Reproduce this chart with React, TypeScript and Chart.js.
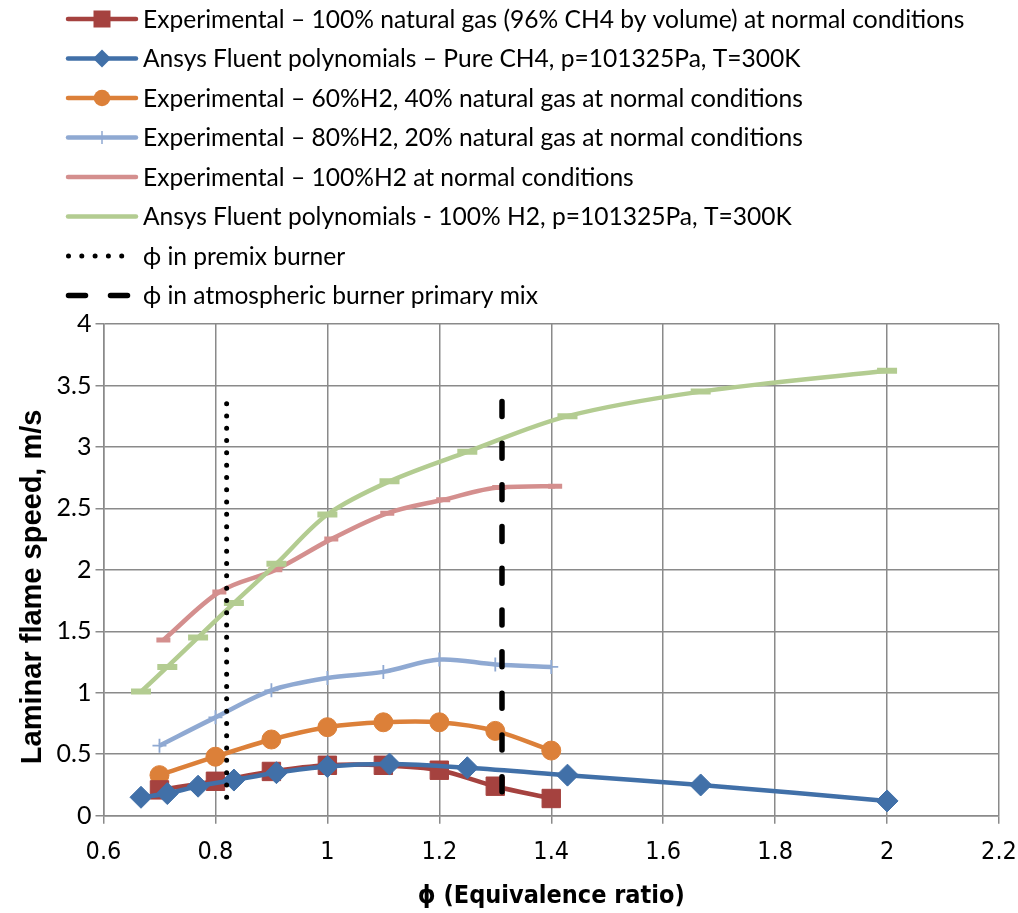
import React, { useEffect, useRef } from 'react';
import { Chart, registerables } from 'chart.js';

Chart.register(...registerables);

// ---- data ----
const phiFluent = [0.667, 0.714, 0.769, 0.833, 0.909, 1.0, 1.111, 1.25, 1.429, 1.667, 2.0];
const fluentCH4 = [0.15, 0.18, 0.24, 0.29, 0.35, 0.4, 0.42, 0.39, 0.33, 0.25, 0.12];
const fluentH2 = [1.01, 1.21, 1.45, 1.73, 2.05, 2.45, 2.72, 2.96, 3.25, 3.45, 3.62];

const phiExp = [0.7, 0.8, 0.9, 1.0, 1.1, 1.2, 1.3, 1.4];
const expNaturalGas = [0.21, 0.28, 0.36, 0.41, 0.41, 0.37, 0.24, 0.14];
const exp60H2 = [0.33, 0.48, 0.62, 0.72, 0.76, 0.76, 0.69, 0.53];
const exp80H2 = [0.57, 0.8, 1.02, 1.12, 1.17, 1.27, 1.23, 1.21];

const phiExpH2 = [0.707, 0.807, 0.907, 1.007, 1.107, 1.207, 1.307, 1.407];
const exp100H2 = [1.43, 1.82, 2.0, 2.25, 2.46, 2.57, 2.67, 2.68];

const premixPhi = [0.82, 0.82];
const premixSpeed = [0.15, 3.36];
const atmosphericPhi = [1.312, 1.312];
const atmosphericSpeed = [3.37, 0.14];

const xTicks = [0.6, 0.8, 1.0, 1.2, 1.4, 1.6, 1.8, 2.0, 2.2];
const yTicks = [0, 0.5, 1, 1.5, 2, 2.5, 3, 3.5, 4];

const seriesLabels = [
  'Experimental – 100% natural gas (96% CH4 by volume) at normal conditions',
  'Ansys Fluent polynomials – Pure CH4, p=101325Pa, T=300K',
  'Experimental – 60%H2, 40% natural gas at normal conditions',
  'Experimental – 80%H2, 20% natural gas at normal conditions',
  'Experimental – 100%H2 at normal conditions',
  'Ansys Fluent polynomials - 100% H2, p=101325Pa, T=300K',
  'ϕ in premix burner',
  'ϕ in atmospheric burner primary mix',
];

const xTitle = 'ϕ (Equivalence ratio)';
const yTitle = 'Laminar flame speed, m/s';

// ---- styles ----
const RED = '#A5423F';
const BLUE = '#4170A8';
const ORANGE = '#DC8039';
const LIGHTBLUE = '#8FA9D2';
const PINK = '#D48F8E';
const GREEN = '#B3CC91';
const GRID = '#8A8A8A';

const toPts = (xs: number[], ys: number[]) => xs.map((x, i) => ({ x, y: ys[i] }));

type LegendStyle = {
  color: string;
  width: number;
  dash: number[];
  marker: string | null;
  size: number;
};

const legendStyles: LegendStyle[] = [
  { color: RED, width: 4.5, dash: [], marker: 'square', size: 8.5 },
  { color: BLUE, width: 4.5, dash: [], marker: 'diamond', size: 9 },
  { color: ORANGE, width: 4.5, dash: [], marker: 'circle', size: 8.3 },
  { color: LIGHTBLUE, width: 4.5, dash: [], marker: 'cross', size: 6.5 },
  { color: PINK, width: 4.5, dash: [], marker: null, size: 0 },
  { color: GREEN, width: 4.5, dash: [], marker: null, size: 0 },
  { color: '#000', width: 5, dash: [0, 13.3], marker: null, size: 0 },
  { color: '#000', width: 5.5, dash: [17, 25], marker: null, size: 0 },
];

const legendPlugin = {
  id: 'excelLegend',
  afterDraw(chart: any) {
    const ctx: CanvasRenderingContext2D = chart.ctx;
    ctx.save();
    const base = 20;
    ctx.font = `${base}px Lato, "Open Sans", sans-serif`;
    const w0 = ctx.measureText(seriesLabels[0]).width;
    const fontSize = (base * 822) / w0;
    seriesLabels.forEach((label, i) => {
      const st = legendStyles[i];
      const y = 19 + i * 39.5;
      ctx.beginPath();
      ctx.setLineDash(st.dash);
      ctx.lineCap = 'round';
      ctx.lineWidth = st.width;
      ctx.strokeStyle = st.color;
      const x0 = i >= 6 ? 68.5 : 68;
      const x1 = i >= 6 ? (i === 7 ? 127.5 : 133) : 136;
      ctx.moveTo(x0, y);
      ctx.lineTo(x1, y);
      ctx.stroke();
      ctx.setLineDash([]);
      const cx = 102;
      const r = st.size;
      if (st.marker === 'square') {
        ctx.fillStyle = st.color;
        ctx.fillRect(cx - r, y - r, 2 * r, 2 * r);
      } else if (st.marker === 'diamond') {
        ctx.fillStyle = st.color;
        ctx.beginPath();
        ctx.moveTo(cx - r, y);
        ctx.lineTo(cx, y - r);
        ctx.lineTo(cx + r, y);
        ctx.lineTo(cx, y + r);
        ctx.closePath();
        ctx.fill();
      } else if (st.marker === 'circle') {
        ctx.fillStyle = st.color;
        ctx.beginPath();
        ctx.arc(cx, y, r, 0, Math.PI * 2);
        ctx.fill();
      } else if (st.marker === 'cross') {
        ctx.strokeStyle = st.color;
        ctx.lineWidth = 1.5;
        ctx.lineCap = 'butt';
        ctx.beginPath();
        ctx.moveTo(cx, y - r);
        ctx.lineTo(cx, y + r);
        ctx.stroke();
      }
      ctx.fillStyle = '#000';
      ctx.font = `${fontSize}px Lato, "Open Sans", sans-serif`;
      ctx.textAlign = 'left';
      ctx.textBaseline = 'middle';
      ctx.fillText(label, 143, y + 1);
    });

    // rotated y-axis title
    const area = chart.chartArea;
    ctx.save();
    ctx.translate(33, (area.top + area.bottom) / 2 + 17);
    ctx.rotate(-Math.PI / 2);
    ctx.font = 'bold 29px "Liberation Sans", Arial, sans-serif';
    ctx.fillStyle = '#000';
    ctx.textAlign = 'center';
    ctx.textBaseline = 'middle';
    ctx.fillText(yTitle, 0, 0);
    ctx.restore();

    ctx.restore();
  },
};

export default function App() {
  const canvasRef = useRef<HTMLCanvasElement | null>(null);

  useEffect(() => {
    document.body.style.margin = '0';
    const canvas = canvasRef.current;
    if (!canvas) return;
    const tension = 0.33;
    const chart = new Chart(canvas, {
      type: 'line',
      data: {
        datasets: [
          {
            label: seriesLabels[7],
            data: toPts(atmosphericPhi, atmosphericSpeed),
            borderColor: '#000',
            borderWidth: 5.5,
            borderDash: [15, 26.7],
            borderCapStyle: 'round',
            pointRadius: 0,
            tension: 0,
            order: 0,
          },
          {
            label: seriesLabels[6],
            data: toPts(premixPhi, premixSpeed),
            borderColor: '#000',
            borderWidth: 5,
            borderDash: [0, 12.3],
            borderCapStyle: 'round',
            pointRadius: 0,
            tension: 0,
            order: 0,
          },
          {
            label: seriesLabels[5],
            data: toPts(phiFluent, fluentH2),
            borderColor: GREEN,
            borderWidth: 4.5,
            pointStyle: 'line',
            pointRadius: 10,
            pointBorderWidth: 6,
            pointBorderColor: GREEN,
            pointBackgroundColor: GREEN,
            tension,
            order: 5,
          },
          {
            label: seriesLabels[4],
            data: toPts(phiExpH2, exp100H2),
            borderColor: PINK,
            borderWidth: 4.5,
            pointStyle: 'line',
            pointRadius: 7,
            pointBorderWidth: 5,
            pointBorderColor: PINK,
            pointBackgroundColor: PINK,
            cubicInterpolationMode: 'monotone',
            order: 6,
          },
          {
            label: seriesLabels[3],
            data: toPts(phiExp, exp80H2),
            borderColor: LIGHTBLUE,
            borderWidth: 4.5,
            pointStyle: 'cross',
            pointRadius: 7,
            pointBorderWidth: 1.8,
            pointBorderColor: LIGHTBLUE,
            pointBackgroundColor: LIGHTBLUE,
            tension,
            order: 4,
          },
          {
            label: seriesLabels[2],
            data: toPts(phiExp, exp60H2),
            borderColor: ORANGE,
            borderWidth: 4.5,
            pointStyle: 'circle',
            pointRadius: 9.5,
            pointBorderWidth: 1,
            pointBorderColor: ORANGE,
            pointBackgroundColor: ORANGE,
            tension,
            order: 3,
          },
          {
            label: seriesLabels[1],
            data: toPts(phiFluent, fluentCH4),
            borderColor: BLUE,
            borderWidth: 4.5,
            pointStyle: 'rectRot',
            pointRadius: 11,
            pointBorderWidth: 1,
            pointBorderColor: BLUE,
            pointBackgroundColor: BLUE,
            tension,
            order: 1,
          },
          {
            label: seriesLabels[0],
            data: toPts(phiExp, expNaturalGas),
            borderColor: RED,
            borderWidth: 4.5,
            pointStyle: 'rect',
            pointRadius: 13,
            pointBorderWidth: 1,
            pointBorderColor: RED,
            pointBackgroundColor: RED,
            tension,
            order: 2,
          },
        ],
      },
      options: {
        responsive: false,
        maintainAspectRatio: false,
        animation: false,
        events: [],
        layout: { padding: { top: 324, right: 19, left: 0, bottom: 0 } },
        elements: { line: { borderJoinStyle: 'round', capBezierPoints: true } },
        plugins: {
          legend: { display: false },
          tooltip: { enabled: false },
        },
        scales: {
          x: {
            type: 'linear',
            min: 0.6,
            max: 2.2,
            afterBuildTicks: (s: any) => {
              s.ticks = xTicks.map((v) => ({ value: v }));
            },
            afterFit: (s: any) => {
              s.height = 97.3;
              s.paddingLeft = 0;
              s.paddingRight = 0;
            },
            grid: { color: GRID, lineWidth: 1.5, tickLength: 8 },
            border: { color: GRID, width: 1.5 },
            ticks: {
              autoSkip: false,
              maxRotation: 0,
              padding: 14,
              color: '#000',
              font: { family: '"Liberation Sans Narrow", "DejaVu Sans Condensed", sans-serif', size: 25 },
              callback: (v: any) => String(Math.round(Number(v) * 10) / 10),
            },
            title: {
              display: true,
              text: xTitle,
              color: '#000',
              font: { family: '"Liberation Sans Narrow", "DejaVu Sans Condensed", sans-serif', size: 25, weight: 'bold' },
              padding: { top: 0, bottom: 2 },
            },
          },
          y: {
            type: 'linear',
            min: 0,
            max: 4,
            afterBuildTicks: (s: any) => {
              s.ticks = yTicks.map((v) => ({ value: v }));
            },
            afterFit: (s: any) => {
              s.width = 103.5;
            },
            grid: { color: GRID, lineWidth: 1.5, tickLength: 8 },
            border: { color: GRID, width: 1.5 },
            ticks: {
              padding: 4,
              color: '#000',
              font: { family: 'Lato, "Open Sans", sans-serif', size: 25 },
              callback: (v: any) => String(Math.round(Number(v) * 10) / 10),
            },
            title: { display: false, text: yTitle },
          },
        },
      },
      plugins: [legendPlugin],
    } as any);
    return () => chart.destroy();
  }, []);

  return (
    <div style={{ width: 1018, height: 913, overflow: 'hidden' }}>
      <canvas ref={canvasRef} width={1018} height={913} style={{ display: 'block' }} />
    </div>
  );
}
